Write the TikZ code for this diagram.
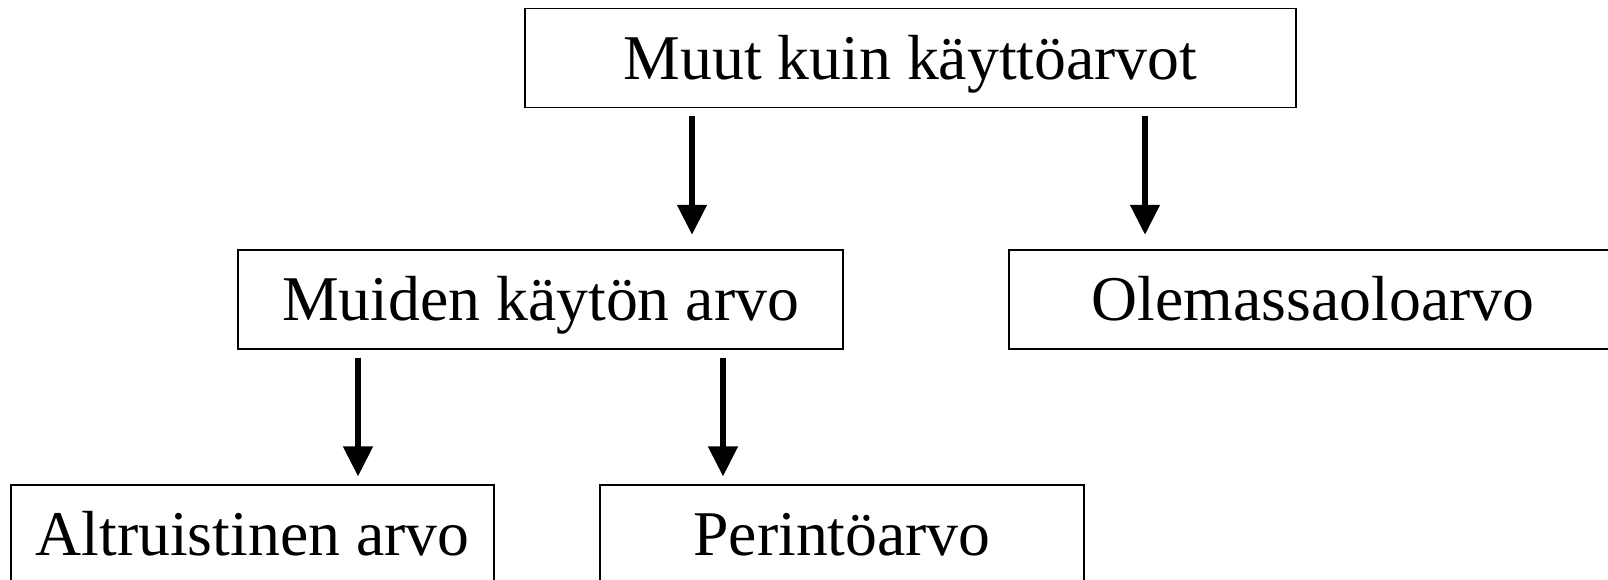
\documentclass[tikz,border=0pt]{standalone}
\usepackage{fontspec}
\setmainfont{Liberation Serif}
\usetikzlibrary{arrows.meta}
\begin{document}
\begin{tikzpicture}[x=0.75pt,y=-0.75pt,
  box/.style={draw=black,line width=1.1pt,inner sep=0pt,
    font=\fontsize{47.8pt}{50pt}\selectfont,
    text height=31.5pt,text depth=0pt,
    minimum height=74pt},
  arr/.style={line width=4.2pt,-{Triangle[length=22.5pt,width=21.5pt]}}]
\clip (0,0) rectangle (1608,579);
\useasboundingbox (0,0) rectangle (1608,579);
\node[box,minimum width=578pt] (top) at (910.5,58) {Muut kuin käyttöarvot};
\node[box,minimum width=454pt] (mid) at (540.5,299.5) {Muiden käytön arvo};
\node[box,minimum width=456pt] (ole) at (1313,299.5) {Olemassaoloarvo};
\node[box,minimum width=362pt] (alt) at (252.5,534.5) {Altruistinen arvo};
\node[box,minimum width=363pt] (per) at (842,534.5) {Perintöarvo};
\coordinate (a1) at (692,0);
\coordinate (a2) at (1145,0);
\coordinate (a3) at (358,0);
\coordinate (a4) at (723,0);
\draw[arr] ([yshift=-6pt]top.south -| a1) -- ([yshift=11pt]mid.north -| a1);
\draw[arr] ([yshift=-6pt]top.south -| a2) -- ([yshift=11pt]ole.north -| a2);
\draw[arr] ([yshift=-6pt]mid.south -| a3) -- ([yshift=6pt]alt.north -| a3);
\draw[arr] ([yshift=-6pt]mid.south -| a4) -- ([yshift=6pt]per.north -| a4);
\end{tikzpicture}
\end{document}
